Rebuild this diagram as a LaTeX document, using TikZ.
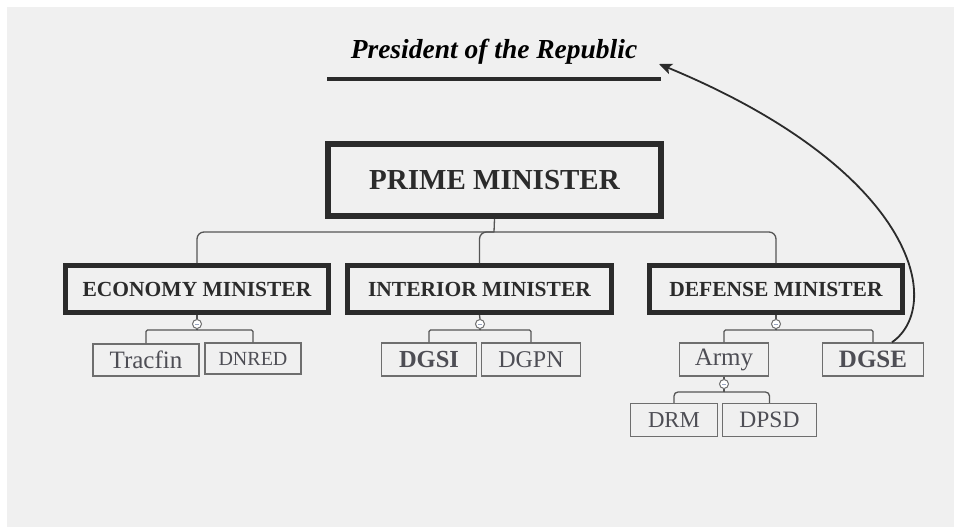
\documentclass[tikz,border=0pt]{standalone}
\usepackage{fontspec}
\setmainfont{Liberation Serif}
\usetikzlibrary{arrows.meta}
\definecolor{bgc}{HTML}{F0F0F0}
\definecolor{darkc}{HTML}{2B2B2B}
\definecolor{boxc}{HTML}{6E6E6E}
\definecolor{txtc}{HTML}{4E4E55}
\definecolor{linec}{HTML}{555555}
\definecolor{minusc}{HTML}{9AA6C0}
\tikzset{
  minister/.style={draw=darkc, line width=5pt, inner sep=0pt, text=darkc,
    font=\fontsize{21.5}{24}\selectfont\bfseries, minimum height=47pt},
  child/.style={draw=boxc, line width=1.4pt, inner sep=0pt, text=txtc,
    font=\fontsize{25}{28}\selectfont, minimum height=33pt},
  conn/.style={draw=linec, line width=1.3pt},
  toggle/.style={circle, draw=boxc, fill=white, line width=1pt, minimum size=9pt, inner sep=0pt},
  minusbar/.style={draw=minusc, line width=1pt},
}
\begin{document}
\begin{tikzpicture}[x=1pt, y=-1pt]
\useasboundingbox (0,0) rectangle (954,527);
\fill[white] (0,0) rectangle (954,527);
\fill[bgc] (7,7) rectangle (954,527);

% President
\node[font=\fontsize{27.5}{30}\selectfont\bfseries\itshape, text=black, inner sep=0pt] (pres) at (494,52) {President of the Republic};
\draw[draw=darkc, line width=4pt] (327,79) -- (661,79);
\coordinate (presin) at (659,64);

% Prime minister
\node[minister, line width=6pt, minimum width=333pt, minimum height=72pt,
  font=\fontsize{29}{32}\selectfont\bfseries] (pm) at (494.5,180) {PRIME MINISTER};

% Ministers
\node[minister, minimum width=263pt] (eco) at (197,289) {ECONOMY MINISTER};
\node[minister, minimum width=264pt] (int) at (479.5,289) {INTERIOR MINISTER};
\node[minister, minimum width=253pt] (def) at (776,289) {DEFENSE MINISTER};

% PM connectors
\coordinate (pmb) at (494,232);
\draw[conn] (pm.south) -- (pmb);
\draw[conn, rounded corners=7pt] (pmb) -| (eco.north);
\draw[conn, rounded corners=7pt] (pmb) -| (int.north);
\draw[conn, rounded corners=7pt] (pmb) -| (def.north);

% Toggles
\node[toggle] (ecot) at (197,324) {};
\node[toggle] (intt) at (480,324) {};
\node[toggle] (deft) at (776,324) {};

% Children
\node[child, minimum width=106pt, minimum height=32pt] (tracfin) at (146,360) {Tracfin};
\node[child, minimum width=96pt, minimum height=31pt, font=\fontsize{20}{24}\selectfont] (dnred) at (253,358.5) {DNRED};
\node[child, minimum width=95pt, font=\fontsize{24.5}{28}\selectfont\bfseries] (dgsi) at (429,359.5) {DGSI};
\node[child, minimum width=99pt, font=\fontsize{24}{28}\selectfont] (dgpn) at (531,359.5) {DGPN};
\node[child, minimum width=89pt] (army) at (724,359.5) {Army};
\node[child, minimum width=101pt, font=\fontsize{25}{28}\selectfont\bfseries] (dgse) at (873,359.5) {DGSE};
\node[toggle] (armyt) at (724,384) {};
\node[child, minimum width=87pt, font=\fontsize{22.8}{26}\selectfont] (drm) at (674,420) {DRM};
\node[child, minimum width=94pt, font=\fontsize{23.5}{26}\selectfont] (dpsd) at (769.5,420) {DPSD};

% Minister -> children connectors
\coordinate (ecob) at (197,330);
\coordinate (intb) at (480,330);
\coordinate (defb) at (776,330);
\coordinate (armyb) at (724,392);
\foreach \m/\t/\b in {eco/ecot/ecob, int/intt/intb, def/deft/defb}{
  \draw[conn] (\m.south) -- (\t.north);
  \draw[conn] (\t.south) -- (\b);
}
\draw[conn, rounded corners=1.5pt] (ecob) -| (tracfin.north);
\draw[conn, rounded corners=1.5pt] (ecob) -| (dnred.north);
\draw[conn, rounded corners=1.5pt] (intb) -| (dgsi.north);
\draw[conn, rounded corners=1.5pt] (intb) -| (dgpn.north);
\draw[conn, rounded corners=1.5pt] (defb) -| (army.north);
\draw[conn, rounded corners=1.5pt] (defb) -| (dgse.north);
\draw[conn] (army.south) -- (armyt.north);
\draw[conn] (armyt.south) -- (armyb);
\draw[conn, rounded corners=4pt] (armyb) -| (drm.north);
\draw[conn, rounded corners=4pt] (armyb) -| (dpsd.north);

% minus marks
\foreach \t in {ecot, intt, deft, armyt}{
  \draw[minusbar] ([xshift=-2.2pt]\t.center) -- ([xshift=2.2pt]\t.center);
}

% DGSE -> President arrow
\draw[draw=darkc, line width=1.8pt, -{Stealth[length=13pt, width=11pt, inset=3pt]}]
  ([xshift=19pt]dgse.north) .. controls (945,305) and (915,170) .. (presin);
\end{tikzpicture}
\end{document}
